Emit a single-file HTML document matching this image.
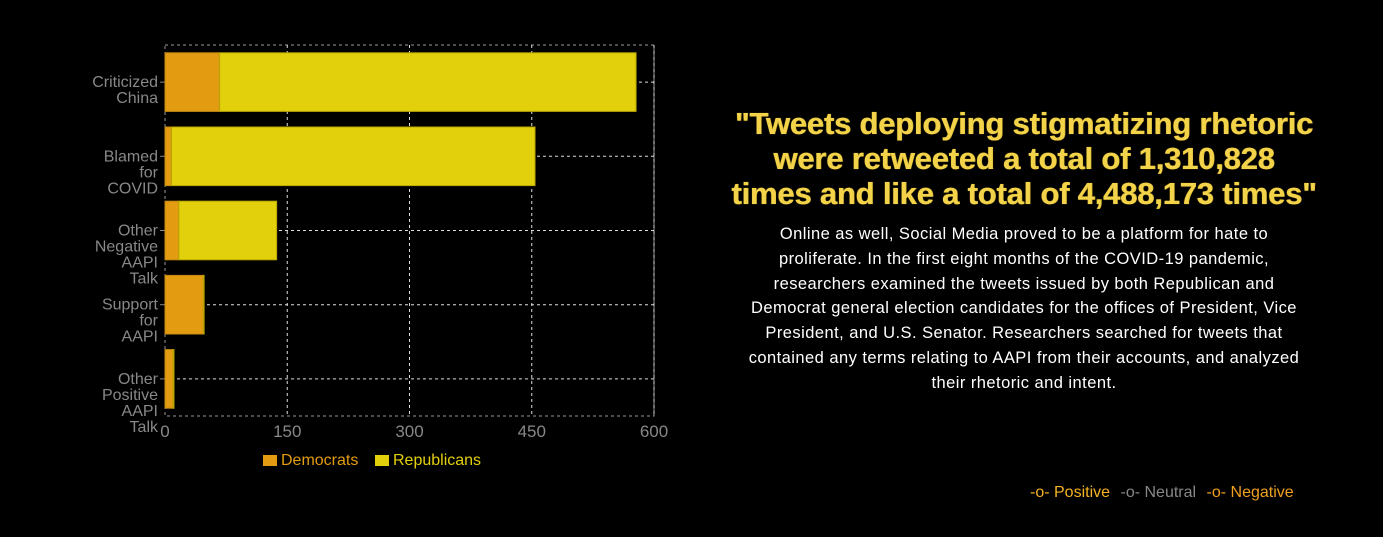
<!DOCTYPE html>
<html><head><meta charset="utf-8"><style>
html,body{margin:0;padding:0;background:#000;width:1383px;height:537px;overflow:hidden;font-family:"Liberation Sans",sans-serif}
#heading{position:absolute;left:674px;top:106px;width:700px;text-align:center;color:#f3d34a;font-weight:bold;font-size:31px;line-height:35px;letter-spacing:-0.2px;text-shadow:0 0 1px #8a7000,0.5px 0 0 #f3d34a}
#body{position:absolute;left:674px;top:222px;width:700px;text-align:center;color:#fff;font-size:16.5px;line-height:24.8px;letter-spacing:0.45px}
#legend2{position:absolute;left:1030px;top:484px;font-size:16px}
#legend2 span{margin-right:6px}
</style></head><body>
<svg id="chart" width="700" height="537" style="position:absolute;left:0;top:0"></svg>
<div id="heading">"Tweets deploying stigmatizing rhetoric<br>were retweeted a total of 1,310,828<br>times and like a total of 4,488,173 times"</div>
<div id="body">Online as well, Social Media proved to be a platform for hate to<br>proliferate. In the first eight months of the COVID-19 pandemic,<br>researchers examined the tweets issued by both Republican and<br>Democrat general election candidates for the offices of President, Vice<br>President, and U.S. Senator. Researchers searched for tweets that<br>contained any terms relating to AAPI from their accounts, and analyzed<br>their rhetoric and intent.</div>
<div id="legend2">
<span style="color:#f5b324">-o- Positive</span>
<span style="color:#888">-o- Neutral</span>
<span style="color:#f0a020">-o- Negative</span>
</div>
<script>
const categories=[["Criticized","China"],["Blamed","for","COVID"],["Other","Negative","AAPI","Talk"],["Support","for","AAPI"],["Other","Positive","AAPI","Talk"]];
const democrats=[67,8,17,47,10];
const republicans=[511,446,120,1,1];
const ticks=[0,150,300,450,600];
const NS="http://www.w3.org/2000/svg";
const svg=document.getElementById('chart');
const x0=165,x1=654,yTop=45,yBot=416;
const xs=v=>x0+(v/600)*(x1-x0);
const band=(yBot-yTop)/categories.length;
const yc=i=>yTop+band*(i+0.5);
function mk(t,a){const e=document.createElementNS(NS,t);for(const k in a)e.setAttribute(k,a[k]);svg.appendChild(e);return e;}
let fr=mk('rect',{x:x0,y:yTop,width:x1-x0,height:yBot-yTop,fill:'none',stroke:'#999','stroke-dasharray':'3,3'});


ticks.forEach(t=>{
 if(t>0){const g=mk('line',{x1:xs(t),x2:xs(t),y1:yTop,y2:yBot,stroke:'#ddd','stroke-dasharray':'3,3'});
 
 }
 const tl=mk('text',{x:xs(t),y:yBot+21,'text-anchor':'middle',fill:'#888','font-size':'17'});
 tl.textContent=t;
 
 
});
categories.forEach((c,i)=>{
 const gl=mk('line',{x1:x0,x2:x1,y1:yc(i),y2:yc(i),stroke:'#ddd','stroke-dasharray':'3,3'});
 
 
 mk('line',{x1:x0-5,x2:x0,y1:yc(i),y2:yc(i),stroke:'#888'});
 const bh=band*0.79,by=yc(i)-bh/2;
 const d=mk('rect',{x:xs(0),y:by,width:xs(democrats[i])-xs(0),height:bh,fill:'#e39c12',stroke:'#c48a10','stroke-width':1});
 
 
 const r=mk('rect',{x:xs(democrats[i]),y:by,width:xs(democrats[i]+republicans[i])-xs(democrats[i]),height:bh,fill:'#e2d00c',stroke:'#b8a500','stroke-width':1});
 
 
 const lt=mk('text',{x:x0-7,'text-anchor':'end',fill:'#888','font-size':'16'});
 
 
 c.forEach((w,j)=>{const s=document.createElementNS(NS,'tspan');s.setAttribute('x',x0-7);s.setAttribute('y',yc(i)+5+j*16);s.textContent=w;lt.appendChild(s);});
});
[['Democrats','#e39c12',263,'legend-democrats'],['Republicans','#e2d00c',375,'legend-republicans']].forEach(l=>{
 const sw=mk('rect',{x:l[2],y:455,width:14,height:11,fill:l[1]});
 
 
 const t=mk('text',{x:l[2]+18,y:465,fill:l[1],'font-size':'16'});
 t.textContent=l[0];
 
 
});
</script>
</body></html>
